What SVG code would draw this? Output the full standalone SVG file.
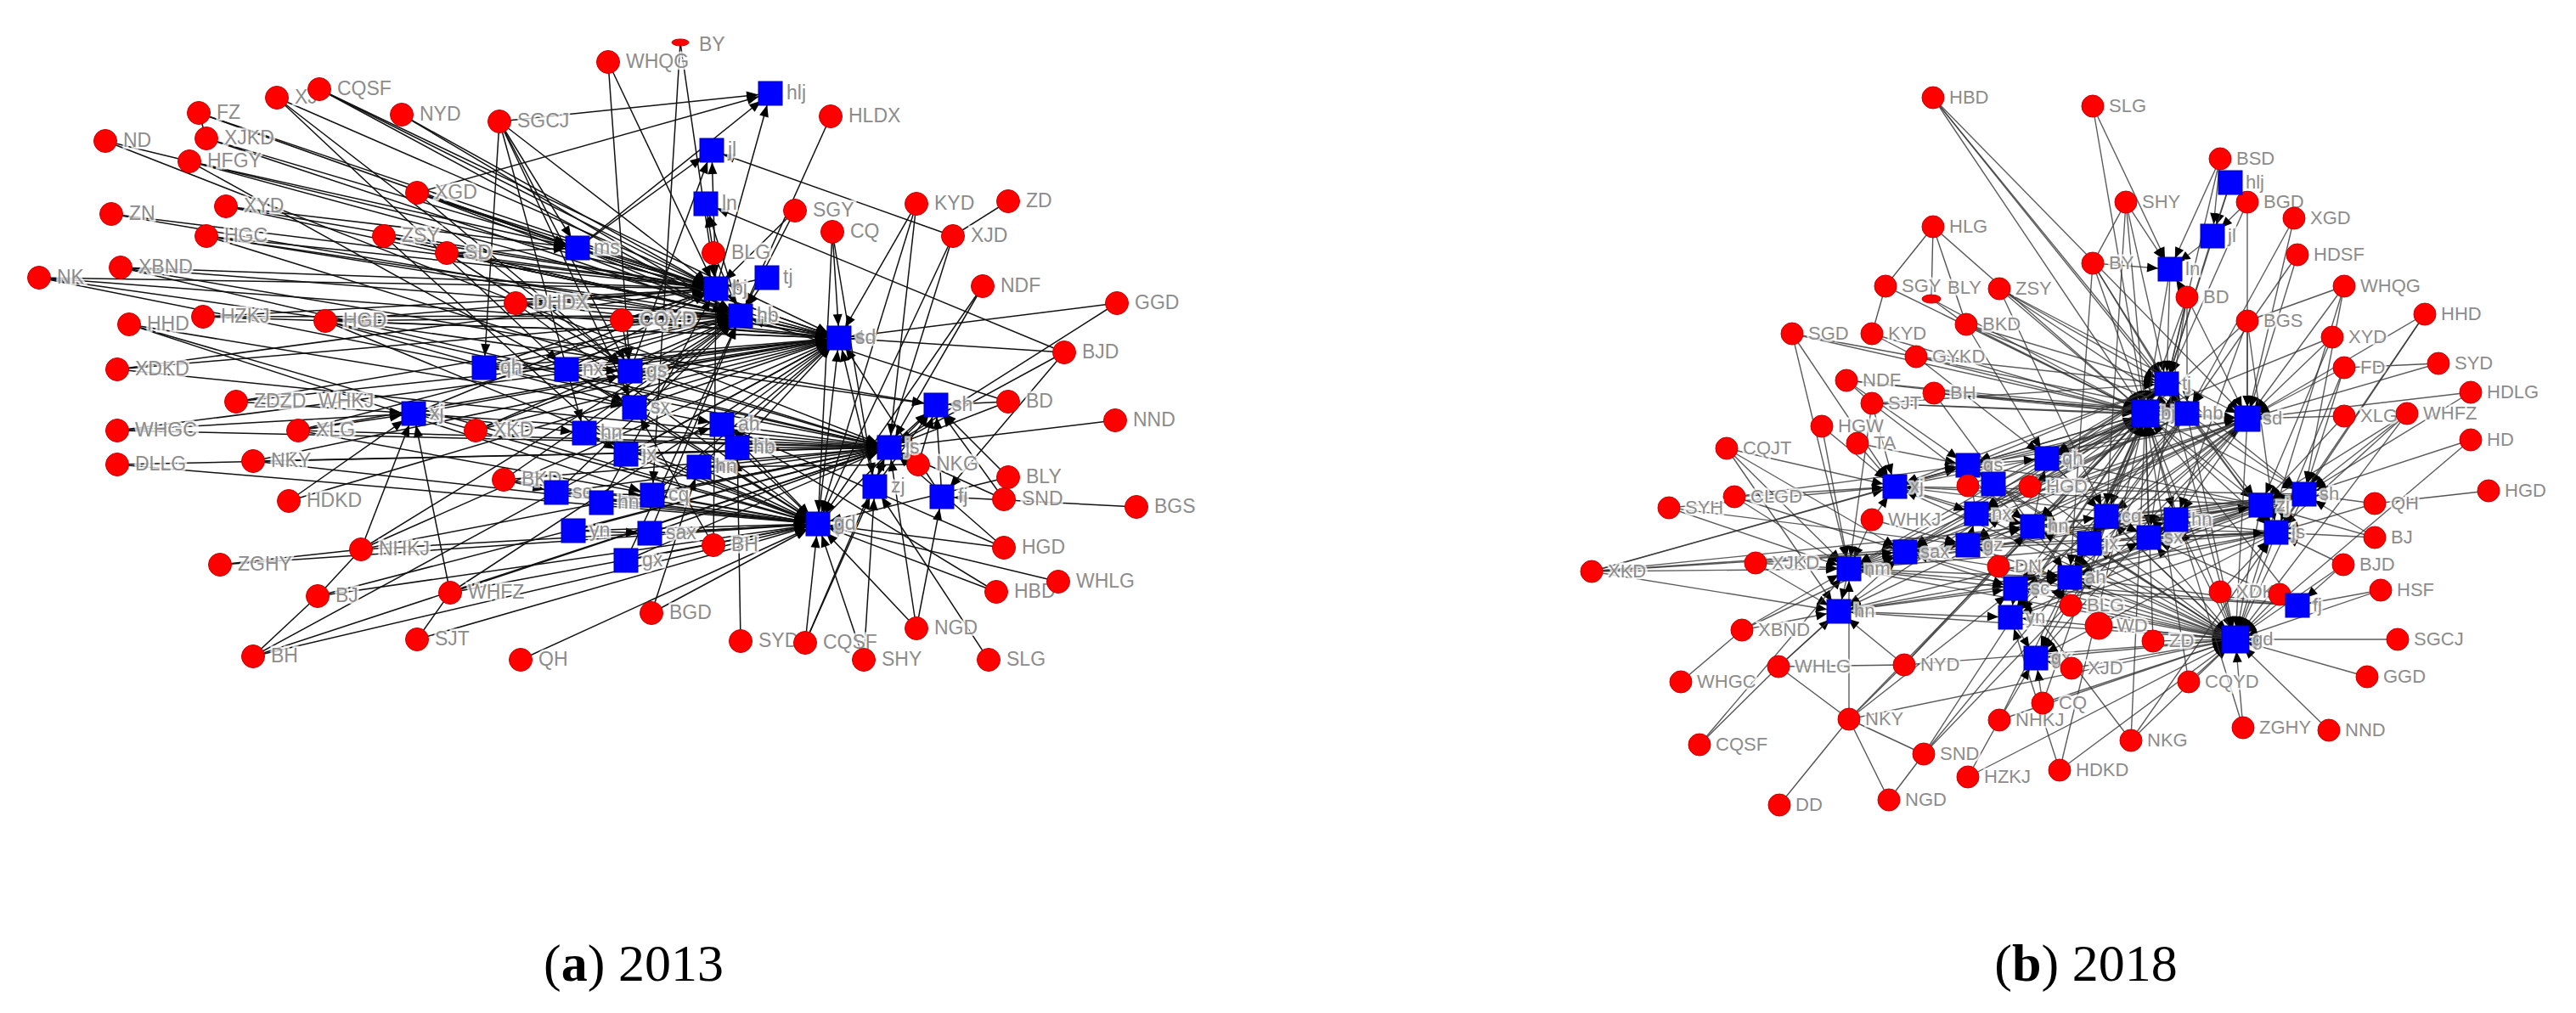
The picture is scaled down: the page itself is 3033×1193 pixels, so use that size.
<svg xmlns="http://www.w3.org/2000/svg" width="3033" height="1193" viewBox="0 0 3033 1193">
<style>
.ea path{fill:none;stroke:#111;stroke-width:1.5;marker-end:url(#arA)}
.na path{fill:none;stroke:#111;stroke-width:1.5}
.eb path{fill:none;stroke:#333;stroke-width:1.4;stroke-opacity:.8;marker-end:url(#arB)}
.nb path{fill:none;stroke:#555;stroke-width:1.4}
.r{fill:#ff0000;stroke:#c80000;stroke-width:1}
.b{fill:#0000ff;stroke:#0000b0;stroke-width:1}
.t{font-family:"Liberation Sans",Arial,sans-serif;font-size:23px;fill:#8c8c8c;stroke:#fff;stroke-width:5;stroke-opacity:.75;paint-order:stroke}
.u{font-family:"Liberation Sans",Arial,sans-serif;font-size:22px;fill:#8c8c8c;stroke:#fff;stroke-width:5;stroke-opacity:.75;paint-order:stroke}
.cap{font-family:"Liberation Serif","Times New Roman",serif;font-size:62px;fill:#000}
</style>
<defs>
<marker id="arA" markerUnits="userSpaceOnUse" markerWidth="16" markerHeight="12" refX="28" refY="5.5" orient="auto" overflow="visible"><path d="M0 0L14 5.5L0 11z" fill="#000"/></marker>
<marker id="arB" markerUnits="userSpaceOnUse" markerWidth="16" markerHeight="12" refX="27" refY="5.5" orient="auto" overflow="visible"><path d="M0 0L13 5.5L0 11z" fill="#000"/></marker>
</defs>
<rect width="3033" height="1193" fill="#fff"/>
<g id="connectors">
<g class="ea">
<path d="M124 166L1047 527"/><path d="M234 133L680 292"/><path d="M234 133L843 340"/><path d="M243 163L843 340"/><path d="M243 163L872 372"/>
<path d="M223 190L843 340"/><path d="M223 190L988 398"/><path d="M223 190L747 480"/><path d="M223 190L680 292"/>
<path d="M326 115L843 340"/><path d="M326 115L667 435"/><path d="M326 115L742 437"/>
<path d="M376 105L843 340"/><path d="M376 105L872 372"/><path d="M376 105L988 398"/>
<path d="M473 135L843 340"/><path d="M473 135L872 372"/>
<path d="M588 143L907 110"/><path d="M588 143L843 340"/><path d="M588 143L680 292"/><path d="M588 143L742 437"/><path d="M588 143L570 433"/><path d="M588 143L747 480"/><path d="M588 143L688 510"/>
<path d="M716 73L742 437"/><path d="M716 73L843 340"/><path d="M801 50L768 583"/><path d="M801 50L843 340"/>
<path d="M978 137L872 372"/>
<path d="M491 227L907 110"/><path d="M491 227L843 340"/><path d="M491 227L872 372"/><path d="M491 227L988 398"/><path d="M491 227L742 437"/><path d="M491 227L680 292"/>
<path d="M131 252L988 398"/><path d="M131 252L843 340"/>
<path d="M266 243L843 340"/><path d="M266 243L680 292"/><path d="M266 243L872 372"/>
<path d="M243 278L843 340"/><path d="M243 278L988 398"/><path d="M243 278L1047 527"/><path d="M243 278L872 372"/>
<path d="M452 278L843 340"/><path d="M452 278L872 372"/><path d="M452 278L737 535"/><path d="M452 278L988 398"/>
<path d="M526 298L843 340"/><path d="M526 298L872 372"/><path d="M526 298L742 437"/><path d="M526 298L680 292"/><path d="M526 298L988 398"/>
<path d="M46 327L988 398"/><path d="M46 327L1047 527"/><path d="M46 327L843 340"/><path d="M46 327L1102 477"/>
<path d="M142 315L1047 527"/><path d="M142 315L1102 477"/><path d="M142 315L843 340"/><path d="M142 315L872 372"/>
<path d="M607 357L843 340"/><path d="M607 357L872 372"/><path d="M607 357L988 398"/><path d="M607 357L963 617"/>
<path d="M152 382L747 480"/><path d="M152 382L963 617"/><path d="M152 382L768 583"/>
<path d="M239 373L872 372"/><path d="M239 373L843 340"/><path d="M239 373L988 398"/>
<path d="M383 378L843 340"/><path d="M383 378L872 372"/><path d="M383 378L988 398"/><path d="M383 378L963 617"/><path d="M383 378L1047 527"/><path d="M383 378L747 480"/>
<path d="M138 435L872 372"/><path d="M138 435L843 340"/><path d="M138 435L1047 527"/>
<path d="M936 248L872 372"/><path d="M936 248L843 340"/>
<path d="M980 273L988 398"/><path d="M980 273L963 617"/><path d="M980 273L1030 573"/>
<path d="M1079 240L963 617"/><path d="M1079 240L1047 527"/><path d="M1079 240L988 398"/>
<path d="M1122 278L838 177"/><path d="M1122 278L963 617"/><path d="M1122 278L1030 573"/>
<path d="M840 298L843 340"/><path d="M840 298L872 372"/><path d="M840 298L831 240"/>
<path d="M732 377L872 372"/><path d="M732 377L843 340"/><path d="M732 377L988 398"/><path d="M732 377L742 437"/>
<path d="M1157 337L963 617"/><path d="M1157 337L1047 527"/>
<path d="M1315 357L988 398"/><path d="M1315 357L1047 527"/>
<path d="M1253 415L831 240"/><path d="M1253 415L988 398"/><path d="M1253 415L1047 527"/><path d="M1253 415L1109 585"/>
<path d="M278 473L487 487"/><path d="M278 473L872 372"/><path d="M278 473L988 398"/>
<path d="M138 507L487 487"/><path d="M138 507L988 398"/><path d="M138 507L1047 527"/>
<path d="M351 507L487 487"/><path d="M351 507L872 372"/><path d="M351 507L988 398"/><path d="M351 507L963 617"/><path d="M351 507L1047 527"/>
<path d="M560 507L742 437"/><path d="M560 507L872 372"/><path d="M560 507L988 398"/>
<path d="M138 547L963 617"/><path d="M138 547L1047 527"/>
<path d="M298 543L1047 527"/><path d="M298 543L963 617"/><path d="M298 543L988 398"/>
<path d="M340 590L487 487"/><path d="M340 590L988 398"/>
<path d="M593 565L872 372"/><path d="M593 565L1047 527"/><path d="M593 565L963 617"/><path d="M593 565L655 580"/>
<path d="M425 647L487 487"/><path d="M425 647L988 398"/><path d="M425 647L872 372"/><path d="M425 647L1047 527"/><path d="M425 647L963 617"/>
<path d="M259 665L963 617"/><path d="M374 702L963 617"/><path d="M374 702L1047 527"/>
<path d="M530 698L963 617"/><path d="M530 698L1047 527"/><path d="M530 698L988 398"/><path d="M530 698L487 487"/>
<path d="M491 753L963 617"/>
<path d="M298 773L963 617"/><path d="M298 773L1047 527"/><path d="M298 773L988 398"/>
<path d="M613 777L963 617"/>
<path d="M840 642L843 340"/><path d="M840 642L747 480"/>
<path d="M767 722L823 550"/><path d="M767 722L963 617"/>
<path d="M872 755L868 527"/>
<path d="M948 757L1047 527"/><path d="M948 757L1030 573"/><path d="M948 757L963 617"/>
<path d="M1017 777L963 617"/><path d="M1017 777L1030 573"/>
<path d="M1079 740L1047 527"/><path d="M1079 740L1109 585"/><path d="M1079 740L963 617"/>
<path d="M1164 777L1030 573"/>
<path d="M1173 697L963 617"/><path d="M1173 697L850 500"/>
<path d="M1246 685L963 617"/>
<path d="M1182 645L963 617"/><path d="M1182 645L1047 527"/><path d="M1182 645L850 500"/>
<path d="M1338 597L1109 585"/>
<path d="M1182 588L1047 527"/><path d="M1182 588L1102 477"/>
<path d="M1187 562L1102 477"/><path d="M1187 562L963 617"/>
<path d="M1081 547L1047 527"/><path d="M1081 547L1102 477"/><path d="M1081 547L823 550"/>
<path d="M1313 495L1047 527"/>
<path d="M1187 473L1102 477"/><path d="M1187 473L872 372"/><path d="M1187 473L1047 527"/>
<path d="M680 292L843 340"/><path d="M680 292L907 110"/><path d="M680 292L838 177"/>
<path d="M570 433L742 437"/><path d="M570 433L872 372"/>
<path d="M667 435L843 340"/><path d="M667 435L988 398"/>
<path d="M742 437L872 372"/><path d="M742 437L838 177"/>
<path d="M747 480L850 500"/><path d="M747 480L988 398"/>
<path d="M487 487L688 510"/><path d="M487 487L963 617"/>
<path d="M688 510L737 535"/><path d="M688 510L1047 527"/>
<path d="M737 535L850 500"/><path d="M737 535L988 398"/>
<path d="M823 550L963 617"/>
<path d="M655 580L768 583"/><path d="M655 580L1047 527"/>
<path d="M675 625L765 628"/><path d="M675 625L963 617"/>
<path d="M737 660L963 617"/>
<path d="M765 628L963 617"/><path d="M765 628L872 372"/>
<path d="M768 583L963 617"/><path d="M768 583L988 398"/>
<path d="M850 500L988 398"/><path d="M850 500L1047 527"/>
<path d="M868 527L1047 527"/><path d="M868 527L963 617"/>
<path d="M1030 573L1102 477"/><path d="M1109 585L1102 477"/><path d="M1047 527L1102 477"/>
<path d="M963 617L988 398"/><path d="M903 327L843 340"/><path d="M872 372L988 398"/>
<path d="M843 340L907 110"/><path d="M872 372L831 240"/><path d="M843 340L838 177"/>
<path d="M708 592L963 617"/><path d="M708 592L1047 527"/><path d="M903 327L872 372"/>
<path d="M570 433L843 340"/><path d="M570 433L988 398"/><path d="M667 435L872 372"/><path d="M667 435L963 617"/><path d="M742 437L988 398"/><path d="M742 437L1047 527"/>
<path d="M747 480L872 372"/><path d="M747 480L963 617"/><path d="M688 510L872 372"/><path d="M688 510L963 617"/><path d="M737 535L963 617"/><path d="M737 535L1047 527"/>
<path d="M823 550L1047 527"/><path d="M823 550L988 398"/><path d="M655 580L963 617"/><path d="M655 580L872 372"/><path d="M708 592L843 340"/><path d="M768 583L1047 527"/>
<path d="M675 625L1047 527"/><path d="M765 628L1047 527"/><path d="M737 660L1047 527"/><path d="M737 660L872 372"/><path d="M850 500L963 617"/><path d="M868 527L988 398"/>
<path d="M487 487L843 340"/><path d="M487 487L1047 527"/><path d="M487 487L988 398"/><path d="M680 292L988 398"/><path d="M680 292L872 372"/><path d="M1030 573L988 398"/><path d="M1109 585L988 398"/><path d="M963 617L1102 477"/>
</g>
<g class="na">
<path d="M124 166L223 190"/><path d="M1187 237L1122 278"/><path d="M259 665L425 647"/><path d="M374 702L425 647"/><path d="M491 753L530 698"/><path d="M298 773L374 702"/><path d="M234 133L243 163"/>
</g>
<g class="eb">
<path d="M2276 115L2526 487"/><path d="M2276 115L2551 452"/><path d="M2276 115L2575 487"/><path d="M2276 115L2646 493"/>
<path d="M2464 125L2555 317"/><path d="M2464 125L2526 487"/>
<path d="M2614 187L2605 278"/><path d="M2614 187L2551 452"/><path d="M2614 187L2555 317"/>
<path d="M2503 238L2555 317"/><path d="M2503 238L2526 487"/><path d="M2503 238L2551 452"/>
<path d="M2646 238L2626 215"/><path d="M2646 238L2605 278"/><path d="M2646 238L2646 493"/><path d="M2646 238L2551 452"/>
<path d="M2701 257L2646 493"/><path d="M2701 257L2575 487"/>
<path d="M2705 300L2646 493"/><path d="M2705 300L2575 487"/>
<path d="M2276 267L2526 487"/>
<path d="M2464 310L2526 487"/><path d="M2464 310L2551 452"/><path d="M2464 310L2555 317"/><path d="M2464 310L2575 487"/>
<path d="M2220 337L2526 487"/><path d="M2274 352L2526 487"/>
<path d="M2354 340L2526 487"/><path d="M2354 340L2551 452"/><path d="M2354 340L2575 487"/><path d="M2354 340L2646 493"/>
<path d="M2760 337L2646 493"/><path d="M2760 337L2632 753"/>
<path d="M2575 350L2526 487"/><path d="M2575 350L2575 487"/><path d="M2575 350L2646 493"/><path d="M2575 350L2551 452"/><path d="M2575 350L2555 317"/>
<path d="M2855 370L2646 493"/><path d="M2855 370L2713 582"/>
<path d="M2646 378L2646 493"/><path d="M2646 378L2526 487"/><path d="M2646 378L2680 627"/>
<path d="M2315 382L2526 487"/><path d="M2315 382L2575 487"/><path d="M2315 382L2551 452"/>
<path d="M2110 393L2177 670"/><path d="M2110 393L2526 487"/><path d="M2110 393L2231 573"/>
<path d="M2204 393L2526 487"/>
<path d="M2746 397L2646 493"/><path d="M2746 397L2526 487"/>
<path d="M2256 420L2526 487"/><path d="M2256 420L2551 452"/><path d="M2256 420L2575 487"/>
<path d="M2871 428L2646 493"/>
<path d="M2760 433L2646 493"/><path d="M2760 433L2713 582"/>
<path d="M2174 448L2526 487"/><path d="M2174 448L2575 487"/>
<path d="M2909 462L2713 582"/><path d="M2909 462L2646 493"/>
<path d="M2277 463L2526 487"/><path d="M2277 463L2646 493"/><path d="M2277 463L2575 487"/>
<path d="M2204 475L2526 487"/><path d="M2204 475L2231 573"/><path d="M2204 475L2177 670"/><path d="M2204 475L2551 452"/><path d="M2204 475L2646 493"/>
<path d="M2760 490L2646 493"/><path d="M2760 490L2662 595"/>
<path d="M2834 487L2713 582"/><path d="M2834 487L2680 627"/><path d="M2834 487L2632 753"/>
<path d="M2145 502L2177 670"/><path d="M2145 502L2231 573"/>
<path d="M2187 522L2231 573"/><path d="M2187 522L2317 548"/>
<path d="M2909 518L2713 582"/><path d="M2909 518L2632 753"/>
<path d="M2033 528L2177 670"/><path d="M2033 528L2231 573"/><path d="M2033 528L2165 720"/>
<path d="M2796 593L2713 582"/><path d="M2796 593L2680 627"/>
<path d="M2042 585L2177 670"/><path d="M2042 585L2243 650"/><path d="M2042 585L2231 573"/>
<path d="M1965 598L2177 670"/><path d="M1965 598L2231 573"/>
<path d="M2204 612L2231 573"/><path d="M2204 612L2177 670"/><path d="M2204 612L2317 642"/>
<path d="M2796 633L2713 582"/><path d="M2796 633L2680 627"/><path d="M2796 633L2662 595"/>
<path d="M1874 673L2177 670"/><path d="M1874 673L2165 720"/><path d="M1874 673L2231 573"/><path d="M1874 673L2243 650"/><path d="M1874 673L2317 548"/><path d="M1874 673L2317 642"/>
<path d="M2067 663L2177 670"/><path d="M2067 663L2165 720"/>
<path d="M2759 665L2680 627"/><path d="M2759 665L2632 753"/><path d="M2759 665L2705 713"/>
<path d="M2614 697L2632 753"/><path d="M2614 697L2680 627"/><path d="M2684 700L2632 753"/>
<path d="M2803 695L2632 753"/><path d="M2803 695L2705 713"/>
<path d="M2438 713L2632 753"/><path d="M2471 737L2632 753"/>
<path d="M2051 742L2165 720"/><path d="M2051 742L2177 670"/>
<path d="M2535 755L2632 753"/><path d="M2823 753L2632 753"/>
<path d="M2439 787L2632 753"/><path d="M2439 787L2397 775"/>
<path d="M2094 785L2165 720"/>
<path d="M2242 783L2632 753"/><path d="M2242 783L2526 487"/><path d="M2242 783L2165 720"/>
<path d="M2787 797L2632 753"/><path d="M2577 803L2632 753"/>
<path d="M2405 828L2632 753"/><path d="M2405 828L2397 775"/>
<path d="M2177 847L2177 670"/><path d="M2177 847L2632 753"/><path d="M2177 847L2526 487"/>
<path d="M2354 848L2632 753"/><path d="M2354 848L2397 775"/>
<path d="M2641 857L2632 753"/><path d="M2742 860L2632 753"/>
<path d="M2509 872L2632 753"/><path d="M2509 872L2526 487"/><path d="M2509 872L2373 693"/>
<path d="M2001 877L2177 670"/>
<path d="M2265 888L2526 487"/><path d="M2265 888L2646 493"/>
<path d="M2425 907L2632 753"/><path d="M2425 907L2367 727"/>
<path d="M2317 915L2632 753"/>
<path d="M2390 573L2526 487"/><path d="M2390 573L2632 753"/><path d="M2317 572L2526 487"/>
<path d="M2353 667L2632 753"/><path d="M2353 667L2526 487"/>
<path d="M2526 487L2646 493"/><path d="M2526 487L2632 753"/><path d="M2526 487L2680 627"/><path d="M2526 487L2713 582"/><path d="M2526 487L2662 595"/><path d="M2526 487L2231 573"/><path d="M2526 487L2177 670"/><path d="M2526 487L2243 650"/><path d="M2526 487L2317 642"/><path d="M2526 487L2373 693"/><path d="M2526 487L2437 680"/><path d="M2526 487L2480 608"/><path d="M2526 487L2530 633"/><path d="M2526 487L2562 612"/><path d="M2526 487L2397 775"/><path d="M2526 487L2165 720"/>
<path d="M2551 452L2632 753"/><path d="M2551 452L2680 627"/><path d="M2551 452L2662 595"/><path d="M2551 452L2713 582"/><path d="M2551 452L2177 670"/><path d="M2551 452L2317 548"/><path d="M2551 452L2231 573"/>
<path d="M2575 487L2632 753"/><path d="M2575 487L2680 627"/><path d="M2575 487L2713 582"/><path d="M2575 487L2327 605"/><path d="M2575 487L2243 650"/><path d="M2575 487L2373 693"/><path d="M2575 487L2367 727"/><path d="M2575 487L2397 775"/>
<path d="M2646 493L2632 753"/><path d="M2646 493L2231 573"/><path d="M2646 493L2177 670"/><path d="M2646 493L2317 642"/><path d="M2646 493L2437 680"/><path d="M2646 493L2480 608"/><path d="M2646 493L2393 620"/><path d="M2646 493L2373 693"/><path d="M2646 493L2367 727"/>
<path d="M2713 582L2680 627"/><path d="M2713 582L2662 595"/><path d="M2713 582L2632 753"/><path d="M2713 582L2437 680"/><path d="M2713 582L2530 633"/><path d="M2713 582L2480 608"/><path d="M2713 582L2231 573"/><path d="M2713 582L2177 670"/>
<path d="M2662 595L2632 753"/><path d="M2662 595L2680 627"/><path d="M2662 595L2373 693"/><path d="M2662 595L2317 548"/><path d="M2662 595L2410 540"/>
<path d="M2680 627L2632 753"/><path d="M2680 627L2177 670"/><path d="M2680 627L2243 650"/><path d="M2680 627L2393 620"/><path d="M2680 627L2530 633"/><path d="M2680 627L2397 775"/>
<path d="M2632 753L2437 680"/><path d="M2632 753L2397 775"/><path d="M2632 753L2562 612"/><path d="M2632 753L2530 633"/><path d="M2632 753L2460 640"/><path d="M2632 753L2480 608"/><path d="M2632 753L2373 693"/><path d="M2632 753L2367 727"/><path d="M2632 753L2177 670"/><path d="M2632 753L2231 573"/><path d="M2632 753L2165 720"/>
<path d="M2231 573L2317 548"/><path d="M2177 670L2243 650"/><path d="M2177 670L2165 720"/><path d="M2243 650L2317 642"/><path d="M2317 642L2327 605"/><path d="M2327 605L2317 548"/><path d="M2393 620L2410 540"/><path d="M2373 693L2367 727"/><path d="M2437 680L2460 640"/><path d="M2480 608L2562 612"/><path d="M2530 633L2562 612"/><path d="M2460 640L2480 608"/>
<path d="M2626 215L2605 278"/><path d="M2605 278L2555 317"/><path d="M2555 317L2526 487"/><path d="M2555 317L2551 452"/><path d="M2605 278L2551 452"/><path d="M2626 215L2551 452"/>
<path d="M2347 570L2526 487"/><path d="M2347 570L2632 753"/><path d="M2410 540L2526 487"/><path d="M2410 540L2632 753"/><path d="M2317 548L2646 493"/>
<path d="M2551 452L2410 540"/><path d="M2551 452L2393 620"/><path d="M2551 452L2437 680"/><path d="M2551 452L2243 650"/><path d="M2551 452L2327 605"/>
<path d="M2575 487L2231 573"/><path d="M2575 487L2177 670"/><path d="M2575 487L2437 680"/><path d="M2575 487L2460 640"/><path d="M2575 487L2317 548"/><path d="M2575 487L2410 540"/>
<path d="M2646 493L2243 650"/><path d="M2646 493L2165 720"/><path d="M2646 493L2327 605"/><path d="M2646 493L2397 775"/><path d="M2646 493L2562 612"/>
<path d="M2713 582L2243 650"/><path d="M2713 582L2373 693"/><path d="M2713 582L2393 620"/><path d="M2713 582L2367 727"/><path d="M2713 582L2165 720"/>
<path d="M2662 595L2231 573"/><path d="M2662 595L2177 670"/><path d="M2662 595L2437 680"/><path d="M2662 595L2243 650"/>
<path d="M2680 627L2231 573"/><path d="M2680 627L2437 680"/><path d="M2680 627L2317 642"/><path d="M2680 627L2165 720"/><path d="M2680 627L2367 727"/>
<path d="M2705 713L2437 680"/><path d="M2705 713L2373 693"/><path d="M2705 713L2526 487"/><path d="M2705 713L2177 670"/><path d="M2705 713L2530 633"/>
<path d="M2632 753L2317 642"/><path d="M2632 753L2243 650"/><path d="M2632 753L2327 605"/><path d="M2632 753L2393 620"/><path d="M2632 753L2317 548"/>
<path d="M2526 487L2393 620"/><path d="M2526 487L2327 605"/><path d="M2526 487L2367 727"/><path d="M2526 487L2317 548"/><path d="M2526 487L2410 540"/><path d="M2526 487L2460 640"/>
<path d="M2177 670L2373 693"/><path d="M2177 670L2393 620"/><path d="M2177 670L2437 680"/><path d="M2243 650L2373 693"/><path d="M2243 650L2437 680"/>
<path d="M2165 720L2367 727"/><path d="M2165 720L2373 693"/><path d="M2165 720L2437 680"/><path d="M2231 573L2393 620"/><path d="M2231 573L2327 605"/>
<path d="M2317 548L2410 540"/><path d="M2327 605L2393 620"/><path d="M2373 693L2437 680"/><path d="M2367 727L2397 775"/><path d="M2437 680L2530 633"/><path d="M2460 640L2562 612"/>
<path d="M2480 608L2530 633"/><path d="M2393 620L2480 608"/><path d="M2410 540L2480 608"/><path d="M2562 612L2662 595"/><path d="M2530 633L2680 627"/><path d="M2562 612L2713 582"/>
<path d="M2277 463L2437 680"/><path d="M2204 475L2393 620"/><path d="M2174 448L2317 548"/><path d="M2256 420L2410 540"/><path d="M2315 382L2410 540"/><path d="M2354 340L2480 608"/>
<path d="M2464 310L2437 680"/><path d="M2503 238L2480 608"/><path d="M2575 350L2530 633"/><path d="M2646 378L2562 612"/><path d="M2746 397L2662 595"/><path d="M2760 433L2680 627"/>
<path d="M2834 487L2662 595"/><path d="M2855 370L2680 627"/><path d="M2760 337L2713 582"/>
<path d="M1874 673L2393 620"/><path d="M2067 663L2243 650"/><path d="M2042 585L2317 548"/><path d="M1965 598L2317 642"/><path d="M2033 528L2243 650"/><path d="M2051 742L2243 650"/>
<path d="M2094 785L2243 650"/><path d="M2242 783L2393 620"/><path d="M2177 847L2373 693"/><path d="M2265 888L2437 680"/><path d="M2354 848L2437 680"/><path d="M2405 828L2526 487"/>
<path d="M2425 907L2526 487"/><path d="M2509 872L2680 627"/><path d="M2641 857L2526 487"/><path d="M2577 803L2526 487"/><path d="M2535 755L2526 487"/>
</g>
<g class="nb">
<path d="M2276 267L2220 337"/><path d="M2276 267L2274 352"/><path d="M2276 267L2315 382"/><path d="M2503 238L2464 310"/><path d="M2220 337L2204 393"/><path d="M2274 352L2315 382"/><path d="M2760 337L2646 378"/><path d="M2110 393L2256 420"/><path d="M2204 393L2256 420"/><path d="M2871 428L2760 433"/><path d="M2174 448L2204 475"/><path d="M2930 578L2796 593"/><path d="M2094 785L2242 783"/><path d="M2094 785L2177 847"/><path d="M1979 803L2051 742"/><path d="M2177 847L2242 783"/><path d="M2001 877L2094 785"/><path d="M2265 888L2177 847"/><path d="M2317 915L2354 848"/><path d="M2224 942L2177 847"/><path d="M2224 942L2265 888"/><path d="M2095 948L2177 847"/>
</g>
</g>
<g id="nodes-a">
<g id="a-ND"><circle class="r" cx="124" cy="166" r="13.5"/><text class="t" x="145" y="173">ND</text></g>
<g id="a-FZ"><circle class="r" cx="234" cy="133" r="13.5"/><text class="t" x="255" y="140">FZ</text></g>
<g id="a-XJKD"><circle class="r" cx="243" cy="163" r="13.5"/><text class="t" x="264" y="170">XJKD</text></g>
<g id="a-HFGY"><circle class="r" cx="223" cy="190" r="13.5"/><text class="t" x="244" y="197">HFGY</text></g>
<g id="a-XJ"><circle class="r" cx="326" cy="115" r="13.5"/><text class="t" x="347" y="122">XJ</text></g>
<g id="a-CQSF"><circle class="r" cx="376" cy="105" r="13.5"/><text class="t" x="397" y="112">CQSF</text></g>
<g id="a-NYD"><circle class="r" cx="473" cy="135" r="13.5"/><text class="t" x="494" y="142">NYD</text></g>
<g id="a-SGCJ"><circle class="r" cx="588" cy="143" r="13.5"/><text class="t" x="609" y="150">SGCJ</text></g>
<g id="a-WHQG"><circle class="r" cx="716" cy="73" r="13.5"/><text class="t" x="737" y="80">WHQG</text></g>
<g id="a-BY"><ellipse class="r" cx="801" cy="50" rx="10" ry="4"/><text class="t" x="823" y="60">BY</text></g>
<g id="a-HLDX"><circle class="r" cx="978" cy="137" r="13.5"/><text class="t" x="999" y="144">HLDX</text></g>
<g id="a-XGD"><circle class="r" cx="491" cy="227" r="13.5"/><text class="t" x="512" y="234">XGD</text></g>
<g id="a-ZN"><circle class="r" cx="131" cy="252" r="13.5"/><text class="t" x="152" y="259">ZN</text></g>
<g id="a-XYD"><circle class="r" cx="266" cy="243" r="13.5"/><text class="t" x="287" y="250">XYD</text></g>
<g id="a-HGC"><circle class="r" cx="243" cy="278" r="13.5"/><text class="t" x="264" y="285">HGC</text></g>
<g id="a-ZSY"><circle class="r" cx="452" cy="278" r="13.5"/><text class="t" x="473" y="285">ZSY</text></g>
<g id="a-SD"><circle class="r" cx="526" cy="298" r="13.5"/><text class="t" x="547" y="305">SD</text></g>
<g id="a-NK"><circle class="r" cx="46" cy="327" r="13.5"/><text class="t" x="67" y="334">NK</text></g>
<g id="a-XBND"><circle class="r" cx="142" cy="315" r="13.5"/><text class="t" x="163" y="322">XBND</text></g>
<g id="a-DHDX"><circle class="r" cx="607" cy="357" r="13.5"/><text class="t" x="628" y="364">DHDX</text></g>
<g id="a-HHD"><circle class="r" cx="152" cy="382" r="13.5"/><text class="t" x="173" y="389">HHD</text></g>
<g id="a-HZKJ"><circle class="r" cx="239" cy="373" r="13.5"/><text class="t" x="260" y="380">HZKJ</text></g>
<g id="a-HGD"><circle class="r" cx="383" cy="378" r="13.5"/><text class="t" x="404" y="385">HGD</text></g>
<g id="a-XDKD"><circle class="r" cx="138" cy="435" r="13.5"/><text class="t" x="159" y="442">XDKD</text></g>
<g id="a-SGY"><circle class="r" cx="936" cy="248" r="13.5"/><text class="t" x="957" y="255">SGY</text></g>
<g id="a-CQ"><circle class="r" cx="980" cy="273" r="13.5"/><text class="t" x="1001" y="280">CQ</text></g>
<g id="a-KYD"><circle class="r" cx="1079" cy="240" r="13.5"/><text class="t" x="1100" y="247">KYD</text></g>
<g id="a-ZD"><circle class="r" cx="1187" cy="237" r="13.5"/><text class="t" x="1208" y="244">ZD</text></g>
<g id="a-XJD"><circle class="r" cx="1122" cy="278" r="13.5"/><text class="t" x="1143" y="285">XJD</text></g>
<g id="a-BLG"><circle class="r" cx="840" cy="298" r="13.5"/><text class="t" x="861" y="305">BLG</text></g>
<g id="a-CQYD"><circle class="r" cx="732" cy="377" r="13.5"/><text class="t" x="753" y="384">CQYD</text></g>
<g id="a-NDF"><circle class="r" cx="1157" cy="337" r="13.5"/><text class="t" x="1178" y="344">NDF</text></g>
<g id="a-GGD"><circle class="r" cx="1315" cy="357" r="13.5"/><text class="t" x="1336" y="364">GGD</text></g>
<g id="a-BJD"><circle class="r" cx="1253" cy="415" r="13.5"/><text class="t" x="1274" y="422">BJD</text></g>
<g id="a-ZDZD"><circle class="r" cx="278" cy="473" r="13.5"/><text class="t" x="299" y="480">ZDZD</text></g>
<g id="a-WHKJ"><text class="t" x="375" y="480">WHKJ</text></g>
<g id="a-WHGC"><circle class="r" cx="138" cy="507" r="13.5"/><text class="t" x="159" y="514">WHGC</text></g>
<g id="a-XLG"><circle class="r" cx="351" cy="507" r="13.5"/><text class="t" x="372" y="514">XLG</text></g>
<g id="a-XKD"><circle class="r" cx="560" cy="507" r="13.5"/><text class="t" x="581" y="514">XKD</text></g>
<g id="a-DLLG"><circle class="r" cx="138" cy="547" r="13.5"/><text class="t" x="159" y="554">DLLG</text></g>
<g id="a-NKY"><circle class="r" cx="298" cy="543" r="13.5"/><text class="t" x="319" y="550">NKY</text></g>
<g id="a-HDKD"><circle class="r" cx="340" cy="590" r="13.5"/><text class="t" x="361" y="597">HDKD</text></g>
<g id="a-BKD"><circle class="r" cx="593" cy="565" r="13.5"/><text class="t" x="614" y="572">BKD</text></g>
<g id="a-NHKJ"><circle class="r" cx="425" cy="647" r="13.5"/><text class="t" x="446" y="654">NHKJ</text></g>
<g id="a-ZGHY"><circle class="r" cx="259" cy="665" r="13.5"/><text class="t" x="280" y="672">ZGHY</text></g>
<g id="a-BJ"><circle class="r" cx="374" cy="702" r="13.5"/><text class="t" x="395" y="709">BJ</text></g>
<g id="a-WHFZ"><circle class="r" cx="530" cy="698" r="13.5"/><text class="t" x="551" y="705">WHFZ</text></g>
<g id="a-SJT"><circle class="r" cx="491" cy="753" r="13.5"/><text class="t" x="512" y="760">SJT</text></g>
<g id="a-BH"><circle class="r" cx="298" cy="773" r="13.5"/><text class="t" x="319" y="780">BH</text></g>
<g id="a-QH"><circle class="r" cx="613" cy="777" r="13.5"/><text class="t" x="634" y="784">QH</text></g>
<g id="a-BH2"><circle class="r" cx="840" cy="642" r="13.5"/><text class="t" x="861" y="649">BH</text></g>
<g id="a-BGD"><circle class="r" cx="767" cy="722" r="13.5"/><text class="t" x="788" y="729">BGD</text></g>
<g id="a-SYD"><circle class="r" cx="872" cy="755" r="13.5"/><text class="t" x="893" y="762">SYD</text></g>
<g id="a-CQSF2"><circle class="r" cx="948" cy="757" r="13.5"/><text class="t" x="969" y="764">CQSF</text></g>
<g id="a-SHY"><circle class="r" cx="1017" cy="777" r="13.5"/><text class="t" x="1038" y="784">SHY</text></g>
<g id="a-NGD"><circle class="r" cx="1079" cy="740" r="13.5"/><text class="t" x="1100" y="747">NGD</text></g>
<g id="a-SLG"><circle class="r" cx="1164" cy="777" r="13.5"/><text class="t" x="1185" y="784">SLG</text></g>
<g id="a-HBD"><circle class="r" cx="1173" cy="697" r="13.5"/><text class="t" x="1194" y="704">HBD</text></g>
<g id="a-WHLG"><circle class="r" cx="1246" cy="685" r="13.5"/><text class="t" x="1267" y="692">WHLG</text></g>
<g id="a-HGD2"><circle class="r" cx="1182" cy="645" r="13.5"/><text class="t" x="1203" y="652">HGD</text></g>
<g id="a-BGS"><circle class="r" cx="1338" cy="597" r="13.5"/><text class="t" x="1359" y="604">BGS</text></g>
<g id="a-BLY"><circle class="r" cx="1187" cy="562" r="13.5"/><text class="t" x="1208" y="569">BLY</text></g>
<g id="a-SND"><circle class="r" cx="1182" cy="588" r="13.5"/><text class="t" x="1203" y="595">SND</text></g>
<g id="a-NKG"><circle class="r" cx="1081" cy="547" r="13.5"/><text class="t" x="1102" y="554">NKG</text></g>
<g id="a-NND"><circle class="r" cx="1313" cy="495" r="13.5"/><text class="t" x="1334" y="502">NND</text></g>
<g id="a-BD"><circle class="r" cx="1187" cy="473" r="13.5"/><text class="t" x="1208" y="480">BD</text></g>
<g id="a-hlj"><rect class="b" x="893" y="96" width="28" height="28"/><text class="t" x="926" y="117">hlj</text></g>
<g id="a-jl"><rect class="b" x="824" y="163" width="28" height="28"/><text class="t" x="857" y="184">jl</text></g>
<g id="a-ln"><rect class="b" x="817" y="226" width="28" height="28"/><text class="t" x="850" y="247">ln</text></g>
<g id="a-ms"><rect class="b" x="666" y="278" width="28" height="28"/><text class="t" x="699" y="299">ms</text></g>
<g id="a-bj"><rect class="b" x="829" y="326" width="28" height="28"/><text class="t" x="862" y="347">bj</text></g>
<g id="a-tj"><rect class="b" x="889" y="313" width="28" height="28"/><text class="t" x="922" y="334">tj</text></g>
<g id="a-hb"><rect class="b" x="858" y="358" width="28" height="28"/><text class="t" x="891" y="379">hb</text></g>
<g id="a-sd"><rect class="b" x="974" y="384" width="28" height="28"/><text class="t" x="1007" y="405">sd</text></g>
<g id="a-qh"><rect class="b" x="556" y="419" width="28" height="28"/><text class="t" x="589" y="440">qh</text></g>
<g id="a-nx"><rect class="b" x="653" y="421" width="28" height="28"/><text class="t" x="686" y="442">nx</text></g>
<g id="a-gs"><rect class="b" x="728" y="423" width="28" height="28"/><text class="t" x="761" y="444">gs</text></g>
<g id="a-sx"><rect class="b" x="733" y="466" width="28" height="28"/><text class="t" x="766" y="487">sx</text></g>
<g id="a-xj"><rect class="b" x="473" y="473" width="28" height="28"/><text class="t" x="506" y="494">xj</text></g>
<g id="a-hn"><rect class="b" x="674" y="496" width="28" height="28"/><text class="t" x="707" y="517">hn</text></g>
<g id="a-jx"><rect class="b" x="723" y="521" width="28" height="28"/><text class="t" x="756" y="542">jx</text></g>
<g id="a-ah"><rect class="b" x="836" y="486" width="28" height="28"/><text class="t" x="869" y="507">ah</text></g>
<g id="a-hb2"><rect class="b" x="854" y="513" width="28" height="28"/><text class="t" x="887" y="534">hb</text></g>
<g id="a-hn2"><rect class="b" x="809" y="536" width="28" height="28"/><text class="t" x="842" y="557">hn</text></g>
<g id="a-sc"><rect class="b" x="641" y="566" width="28" height="28"/><text class="t" x="674" y="587">sc</text></g>
<g id="a-hn3"><rect class="b" x="694" y="578" width="28" height="28"/><text class="t" x="727" y="599">hn</text></g>
<g id="a-cq"><rect class="b" x="754" y="569" width="28" height="28"/><text class="t" x="787" y="590">cq</text></g>
<g id="a-yn"><rect class="b" x="661" y="611" width="28" height="28"/><text class="t" x="694" y="632">yn</text></g>
<g id="a-sax"><rect class="b" x="751" y="614" width="28" height="28"/><text class="t" x="784" y="635">sax</text></g>
<g id="a-gx"><rect class="b" x="723" y="646" width="28" height="28"/><text class="t" x="756" y="667">gx</text></g>
<g id="a-gd"><rect class="b" x="949" y="603" width="28" height="28"/><text class="t" x="982" y="624">gd</text></g>
<g id="a-sh"><rect class="b" x="1088" y="463" width="28" height="28"/><text class="t" x="1121" y="484">sh</text></g>
<g id="a-js"><rect class="b" x="1033" y="513" width="28" height="28"/><text class="t" x="1066" y="534">js</text></g>
<g id="a-zj"><rect class="b" x="1016" y="559" width="28" height="28"/><text class="t" x="1049" y="580">zj</text></g>
<g id="a-fj"><rect class="b" x="1095" y="571" width="28" height="28"/><text class="t" x="1128" y="592">fj</text></g>
</g>
<g id="nodes-b">
<g id="b-HBD"><circle class="r" cx="2276" cy="115" r="13"/><text class="u" x="2295" y="122">HBD</text></g>
<g id="b-SLG"><circle class="r" cx="2464" cy="125" r="13"/><text class="u" x="2483" y="132">SLG</text></g>
<g id="b-BSD"><circle class="r" cx="2614" cy="187" r="13"/><text class="u" x="2633" y="194">BSD</text></g>
<g id="b-SHY"><circle class="r" cx="2503" cy="238" r="13"/><text class="u" x="2522" y="245">SHY</text></g>
<g id="b-BGD"><circle class="r" cx="2646" cy="238" r="13"/><text class="u" x="2665" y="245">BGD</text></g>
<g id="b-XGD"><circle class="r" cx="2701" cy="257" r="13"/><text class="u" x="2720" y="264">XGD</text></g>
<g id="b-HLG"><circle class="r" cx="2276" cy="267" r="13"/><text class="u" x="2295" y="274">HLG</text></g>
<g id="b-HDSF"><circle class="r" cx="2705" cy="300" r="13"/><text class="u" x="2724" y="307">HDSF</text></g>
<g id="b-BY"><circle class="r" cx="2464" cy="310" r="13"/><text class="u" x="2483" y="317">BY</text></g>
<g id="b-BLY"><ellipse class="r" cx="2274" cy="352" rx="11" ry="5"/><text class="u" x="2293" y="346">BLY</text></g>
<g id="b-SGY"><circle class="r" cx="2220" cy="337" r="13"/><text class="u" x="2239" y="344">SGY</text></g>
<g id="b-ZSY"><circle class="r" cx="2354" cy="340" r="13"/><text class="u" x="2373" y="347">ZSY</text></g>
<g id="b-WHQG"><circle class="r" cx="2760" cy="337" r="13"/><text class="u" x="2779" y="344">WHQG</text></g>
<g id="b-BD"><circle class="r" cx="2575" cy="350" r="13"/><text class="u" x="2594" y="357">BD</text></g>
<g id="b-HHD"><circle class="r" cx="2855" cy="370" r="13"/><text class="u" x="2874" y="377">HHD</text></g>
<g id="b-BGS"><circle class="r" cx="2646" cy="378" r="13"/><text class="u" x="2665" y="385">BGS</text></g>
<g id="b-BKD"><circle class="r" cx="2315" cy="382" r="13"/><text class="u" x="2334" y="389">BKD</text></g>
<g id="b-SGD"><circle class="r" cx="2110" cy="393" r="13"/><text class="u" x="2129" y="400">SGD</text></g>
<g id="b-KYD"><circle class="r" cx="2204" cy="393" r="13"/><text class="u" x="2223" y="400">KYD</text></g>
<g id="b-XYD"><circle class="r" cx="2746" cy="397" r="13"/><text class="u" x="2765" y="404">XYD</text></g>
<g id="b-GYKD"><circle class="r" cx="2256" cy="420" r="13"/><text class="u" x="2275" y="427">GYKD</text></g>
<g id="b-SYD"><circle class="r" cx="2871" cy="428" r="13"/><text class="u" x="2890" y="435">SYD</text></g>
<g id="b-FD"><circle class="r" cx="2760" cy="433" r="13"/><text class="u" x="2779" y="440">FD</text></g>
<g id="b-NDF"><circle class="r" cx="2174" cy="448" r="13"/><text class="u" x="2193" y="455">NDF</text></g>
<g id="b-HDLG"><circle class="r" cx="2909" cy="462" r="13"/><text class="u" x="2928" y="469">HDLG</text></g>
<g id="b-BH"><circle class="r" cx="2277" cy="463" r="13"/><text class="u" x="2296" y="470">BH</text></g>
<g id="b-SJT"><circle class="r" cx="2204" cy="475" r="13"/><text class="u" x="2223" y="482">SJT</text></g>
<g id="b-XLG"><circle class="r" cx="2760" cy="490" r="13"/><text class="u" x="2779" y="497">XLG</text></g>
<g id="b-WHFZ"><circle class="r" cx="2834" cy="487" r="13"/><text class="u" x="2853" y="494">WHFZ</text></g>
<g id="b-HGW"><circle class="r" cx="2145" cy="502" r="13"/><text class="u" x="2164" y="509">HGW</text></g>
<g id="b-TA"><circle class="r" cx="2187" cy="522" r="13"/><text class="u" x="2206" y="529">TA</text></g>
<g id="b-HD"><circle class="r" cx="2909" cy="518" r="13"/><text class="u" x="2928" y="525">HD</text></g>
<g id="b-CQJT"><circle class="r" cx="2033" cy="528" r="13"/><text class="u" x="2052" y="535">CQJT</text></g>
<g id="b-QH"><circle class="r" cx="2796" cy="593" r="13"/><text class="u" x="2815" y="600">QH</text></g>
<g id="b-HGD2"><circle class="r" cx="2930" cy="578" r="13"/><text class="u" x="2949" y="585">HGD</text></g>
<g id="b-CLGD"><circle class="r" cx="2042" cy="585" r="13"/><text class="u" x="2061" y="592">CLGD</text></g>
<g id="b-SYH"><circle class="r" cx="1965" cy="598" r="13"/><text class="u" x="1984" y="605">SYH</text></g>
<g id="b-WHKJ"><circle class="r" cx="2204" cy="612" r="13"/><text class="u" x="2223" y="619">WHKJ</text></g>
<g id="b-BJ"><circle class="r" cx="2796" cy="633" r="13"/><text class="u" x="2815" y="640">BJ</text></g>
<g id="b-XKD"><circle class="r" cx="1874" cy="673" r="13"/><text class="u" x="1893" y="680">XKD</text></g>
<g id="b-XJKD"><circle class="r" cx="2067" cy="663" r="13"/><text class="u" x="2086" y="670">XJKD</text></g>
<g id="b-BJD"><circle class="r" cx="2759" cy="665" r="13"/><text class="u" x="2778" y="672">BJD</text></g>
<g id="b-HSF"><circle class="r" cx="2803" cy="695" r="13"/><text class="u" x="2822" y="702">HSF</text></g>
<g id="b-XBND"><circle class="r" cx="2051" cy="742" r="13"/><text class="u" x="2070" y="749">XBND</text></g>
<g id="b-SGCJ"><circle class="r" cx="2823" cy="753" r="13"/><text class="u" x="2842" y="760">SGCJ</text></g>
<g id="b-WHLG"><circle class="r" cx="2094" cy="785" r="13"/><text class="u" x="2113" y="792">WHLG</text></g>
<g id="b-NYD"><circle class="r" cx="2242" cy="783" r="13"/><text class="u" x="2261" y="790">NYD</text></g>
<g id="b-GGD"><circle class="r" cx="2787" cy="797" r="13"/><text class="u" x="2806" y="804">GGD</text></g>
<g id="b-WHGC"><circle class="r" cx="1979" cy="803" r="13"/><text class="u" x="1998" y="810">WHGC</text></g>
<g id="b-NKY"><circle class="r" cx="2177" cy="847" r="13"/><text class="u" x="2196" y="854">NKY</text></g>
<g id="b-NHKJ"><circle class="r" cx="2354" cy="848" r="13"/><text class="u" x="2373" y="855">NHKJ</text></g>
<g id="b-ZGHY"><circle class="r" cx="2641" cy="857" r="13"/><text class="u" x="2660" y="864">ZGHY</text></g>
<g id="b-NND"><circle class="r" cx="2742" cy="860" r="13"/><text class="u" x="2761" y="867">NND</text></g>
<g id="b-NKG"><circle class="r" cx="2509" cy="872" r="13"/><text class="u" x="2528" y="879">NKG</text></g>
<g id="b-CQSF"><circle class="r" cx="2001" cy="877" r="13"/><text class="u" x="2020" y="884">CQSF</text></g>
<g id="b-SND"><circle class="r" cx="2265" cy="888" r="13"/><text class="u" x="2284" y="895">SND</text></g>
<g id="b-HDKD"><circle class="r" cx="2425" cy="907" r="13"/><text class="u" x="2444" y="914">HDKD</text></g>
<g id="b-HZKJ"><circle class="r" cx="2317" cy="915" r="13"/><text class="u" x="2336" y="922">HZKJ</text></g>
<g id="b-NGD"><circle class="r" cx="2224" cy="942" r="13"/><text class="u" x="2243" y="949">NGD</text></g>
<g id="b-DD"><circle class="r" cx="2095" cy="948" r="13"/><text class="u" x="2114" y="955">DD</text></g>
<g id="b-CQ"><circle class="r" cx="2405" cy="828" r="13"/><text class="u" x="2424" y="835">CQ</text></g>
<g id="b-CQYD"><circle class="r" cx="2577" cy="803" r="13"/><text class="u" x="2596" y="810">CQYD</text></g>
<g id="b-hlj"><rect class="b" x="2612" y="201" width="28" height="28"/><text class="u" x="2644" y="222">hlj</text></g>
<g id="b-jl"><rect class="b" x="2591" y="264" width="28" height="28"/><text class="u" x="2623" y="285">jl</text></g>
<g id="b-ln"><rect class="b" x="2541" y="303" width="28" height="28"/><text class="u" x="2573" y="324">ln</text></g>
<g id="b-tj"><rect class="b" x="2537" y="438" width="28" height="28"/><text class="u" x="2569" y="459">tj</text></g>
<g id="b-bj"><rect class="b" x="2510" y="471" width="32" height="32"/><text class="u" x="2544" y="494">bj</text></g>
<g id="b-hb"><rect class="b" x="2561" y="473" width="28" height="28"/><text class="u" x="2593" y="494">hb</text></g>
<g id="b-sd"><rect class="b" x="2631" y="478" width="30" height="30"/><text class="u" x="2664" y="500">sd</text></g>
<g id="b-xj"><rect class="b" x="2217" y="559" width="28" height="28"/><text class="u" x="2249" y="580">xj</text></g>
<g id="b-gs"><rect class="b" x="2303" y="534" width="28" height="28"/><text class="u" x="2335" y="555">gs</text></g>
<g id="b-HGD"><circle class="r" cx="2390" cy="573" r="13"/><circle class="r" cx="2317" cy="572" r="13"/><text class="u" x="2409" y="580">HGD</text></g>
<g id="b-sq"><rect class="b" x="2333" y="556" width="28" height="28"/></g>
<g id="b-qh"><rect class="b" x="2396" y="526" width="28" height="28"/><text class="u" x="2428" y="547">qh</text></g>
<g id="b-nx"><rect class="b" x="2313" y="591" width="28" height="28"/><text class="u" x="2345" y="612">nx</text></g>
<g id="b-hn"><rect class="b" x="2379" y="606" width="28" height="28"/><text class="u" x="2411" y="627">hn</text></g>
<g id="b-gz"><rect class="b" x="2303" y="628" width="28" height="28"/><text class="u" x="2335" y="649">gz</text></g>
<g id="b-sax"><rect class="b" x="2229" y="636" width="28" height="28"/><text class="u" x="2261" y="657">sax</text></g>
<g id="b-nm"><rect class="b" x="2163" y="656" width="28" height="28"/><text class="u" x="2195" y="677">nm</text></g>
<g id="b-hn2"><rect class="b" x="2151" y="706" width="28" height="28"/><text class="u" x="2183" y="727">hn</text></g>
<g id="b-DN"><circle class="r" cx="2353" cy="667" r="13"/><text class="u" x="2372" y="674">DN</text></g>
<g id="b-sc"><rect class="b" x="2359" y="679" width="28" height="28"/><text class="u" x="2391" y="700">sc</text></g>
<g id="b-yn"><rect class="b" x="2353" y="713" width="28" height="28"/><text class="u" x="2385" y="734">yn</text></g>
<g id="b-ah"><rect class="b" x="2423" y="666" width="28" height="28"/><text class="u" x="2455" y="687">ah</text></g>
<g id="b-jx"><rect class="b" x="2446" y="626" width="28" height="28"/><text class="u" x="2478" y="647">jx</text></g>
<g id="b-cq"><rect class="b" x="2466" y="594" width="28" height="28"/><text class="u" x="2498" y="615">cq</text></g>
<g id="b-sx"><rect class="b" x="2516" y="619" width="28" height="28"/><text class="u" x="2548" y="640">sx</text></g>
<g id="b-hn3"><rect class="b" x="2548" y="598" width="28" height="28"/><text class="u" x="2580" y="619">hn</text></g>
<g id="b-BLG"><circle class="r" cx="2438" cy="713" r="13"/><text class="u" x="2457" y="720">BLG</text></g>
<g id="b-WD"><circle class="r" cx="2471" cy="737" r="16"/><text class="u" x="2492" y="744">WD</text></g>
<g id="b-gx"><rect class="b" x="2383" y="761" width="28" height="28"/><text class="u" x="2415" y="782">gx</text></g>
<g id="b-XJD"><circle class="r" cx="2439" cy="787" r="13"/><text class="u" x="2458" y="794">XJD</text></g>
<g id="b-ZD"><circle class="r" cx="2535" cy="755" r="13"/><text class="u" x="2554" y="762">ZD</text></g>
<g id="b-XDKD"><circle class="r" cx="2614" cy="697" r="13"/><text class="u" x="2633" y="704">XDKD</text></g>
<g id="b-red2"><circle class="r" cx="2684" cy="700" r="13"/></g>
<g id="b-sh"><rect class="b" x="2699" y="568" width="28" height="28"/><text class="u" x="2731" y="589">sh</text></g>
<g id="b-zj"><rect class="b" x="2648" y="581" width="28" height="28"/><text class="u" x="2680" y="602">zj</text></g>
<g id="b-js"><rect class="b" x="2666" y="613" width="28" height="28"/><text class="u" x="2698" y="634">js</text></g>
<g id="b-fj"><rect class="b" x="2691" y="699" width="28" height="28"/><text class="u" x="2723" y="720">fj</text></g>
<g id="b-gd"><rect class="b" x="2616" y="737" width="32" height="32"/><text class="u" x="2652" y="760">gd</text></g>
</g>
<g id="captions">
<text class="cap" x="746" y="1155" text-anchor="middle">(<tspan font-weight="bold">a</tspan>) 2013</text>
<text class="cap" x="2456" y="1155" text-anchor="middle">(<tspan font-weight="bold">b</tspan>) 2018</text>
</g>
</svg>
